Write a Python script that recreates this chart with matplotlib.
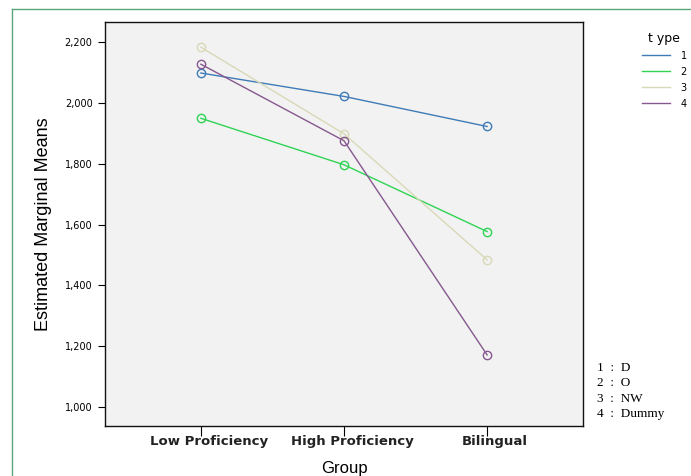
import matplotlib.pyplot as plt
import matplotlib.transforms as mtransforms
from matplotlib.lines import Line2D
from matplotlib.ticker import FuncFormatter

groups = ['Low Proficiency', 'High Proficiency', 'Bilingual']
type_names = ['1', '2', '3', '4']
type_codes = ['1  :  D', '2  :  O', '3  :  NW', '4  :  Dummy']
means = {
    '1': [2099, 2022, 1923],
    '2': [1950, 1797, 1577],
    '3': [2184, 1899, 1484],
    '4': [2128, 1876, 1171],
}
colors = {'1': '#3f7bb6', '2': '#2fd454', '3': '#d9d9b8', '4': '#86588f'}
yticks = [1000, 1200, 1400, 1600, 1800, 2000, 2200]

fig = plt.figure(figsize=(6.91, 4.76), dpi=100)
ax = fig.add_axes([105 / 691, 1 - 426 / 476, 478 / 691, 404 / 476])
ax.set_facecolor('#f2f2f2')

x = list(range(len(groups)))
for t in type_names:
    ax.plot(x, means[t], color=colors[t], lw=1.0, marker='o', ms=6,
            mfc='none', mec=colors[t], mew=1.0)

ax.set_xlim(-0.67, 2.67)
ax.set_ylim(937, 2267)
ax.set_xticks(x)
ax.set_xticklabels([])
# group names sit a little right of their ticks
trans = mtransforms.blended_transform_factory(ax.transData, ax.transAxes) + \
    mtransforms.ScaledTranslation(8 / 100, -9 / 100, fig.dpi_scale_trans)
for xi, g in zip(x, groups):
    ax.text(xi, 0, g, transform=trans, ha='center', va='top', fontsize=9.5,
            fontweight='bold', color='#222222')
ax.set_yticks(yticks)
ax.yaxis.set_major_formatter(FuncFormatter(lambda v, p: f'{int(v):,}'))
ax.tick_params(axis='y', labelsize=7, length=5, width=0.8, pad=4)
ax.tick_params(axis='x', length=7, width=0.8, pad=1)
for s in ax.spines.values():
    s.set_linewidth(1.0)
    s.set_color('#111111')

ax.set_ylabel('Estimated Marginal Means', fontsize=13, family='Liberation Sans', labelpad=9)
ax.text(0.5, 0, 'Group', transform=ax.transAxes + mtransforms.ScaledTranslation(
    0, -42 / 100, fig.dpi_scale_trans), ha='center', va='center', fontsize=12,
    family='Liberation Sans')

# legend for the line types
fig.legend(handles=[Line2D([0], [0], color=colors[t], lw=1.0) for t in type_names],
           labels=type_names, title='t ype', loc='upper left',
           bbox_to_anchor=(633 / 691, 1 - 23 / 476), frameon=False,
           fontsize=7, title_fontsize=9, handlelength=2.9, handletextpad=1.1,
           labelspacing=0.62)

# value labels for the type codes
for i, txt in enumerate(type_codes):
    fig.text(597 / 691, 1 - (368 + i * 15.3) / 476, txt, fontsize=9.5,
             family='Liberation Serif', va='center', ha='left')

# outer panel border
fig.add_artist(Line2D([12 / 691, 12 / 691], [0, 1 - 9 / 476], color='#5aa57a', lw=1.0,
                      transform=fig.transFigure))
fig.add_artist(Line2D([12 / 691, 1], [1 - 9 / 476, 1 - 9 / 476], color='#5aa57a', lw=1.0,
                      transform=fig.transFigure))

fig.savefig('out.png', dpi=100)
